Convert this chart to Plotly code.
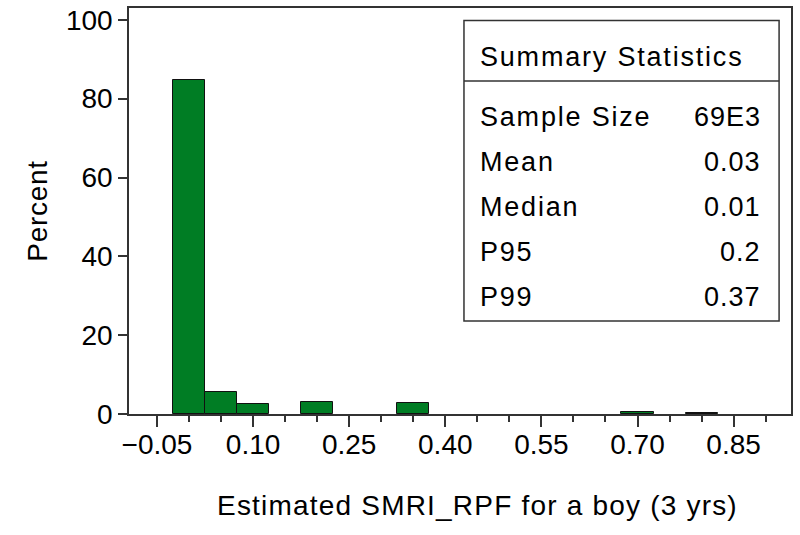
import plotly.graph_objects as go

# histogram bins (midpoints, width 0.05) and percent per bin
bin_mid = [0.00, 0.05, 0.10, 0.20, 0.35, 0.70, 0.80]
percent = [84.7, 5.6, 2.45, 3.05, 2.7, 0.5, 0.3]
bin_width = 0.05

x_tickvals = [-0.05, 0.10, 0.25, 0.40, 0.55, 0.70, 0.85]
x_ticktext = ["\u22120.05", "0.10", "0.25", "0.40", "0.55", "0.70", "0.85"]
y_tickvals = [0, 20, 40, 60, 80, 100]

stat_names = ["Sample Size", "Mean", "Median", "P95", "P99"]
stat_values = ["69E3", "0.03", "0.01", "0.2", "0.37"]

font_name = "Liberation Sans, Arial, sans-serif"
line_col = "#333333"


def spaced(txt, px):
    return f'<span style="letter-spacing:{px}px">{txt}</span>'


fig = go.Figure()
fig.add_trace(go.Bar(
    x=bin_mid, y=percent, width=[bin_width] * len(bin_mid),
    marker=dict(color="#007d24", line=dict(color="#111111", width=1)),
    showlegend=False,
))

fig.update_layout(
    width=800, height=535,
    margin=dict(l=129, r=9, t=8, b=121),
    plot_bgcolor="white", paper_bgcolor="white",
    font=dict(family=font_name, size=28, color="black"),
    bargap=0,
)

fig.update_xaxes(
    range=[-0.0937, 0.9396], automargin=False,
    tickvals=x_tickvals, ticktext=x_ticktext,
    ticks="outside", ticklen=11, tickwidth=1.5, tickcolor=line_col,
    ticklabelstandoff=-6,
    minor=dict(dtick=0.05, tick0=-0.05, ticks="outside", ticklen=6,
               tickwidth=1.5, tickcolor=line_col, showgrid=False),
    showline=True, linecolor=line_col, linewidth=1.5, mirror=True,
    showgrid=False, zeroline=False,
)
fig.update_yaxes(
    range=[0, 103], automargin=False,
    tickvals=y_tickvals,
    ticks="outside", ticklen=9, tickwidth=1.5, tickcolor=line_col,
    showline=True, linecolor=line_col, linewidth=1.5, mirror=True,
    showgrid=False, zeroline=False,
    title=dict(text=spaced("Percent", 0.7), font=dict(size=28), standoff=10),
)

# x axis title (sits a little right of the plot centre in the original)
fig.add_annotation(xref="paper", yref="paper", x=0.527, y=-0.2266,
                   text=spaced("Estimated SMRI_RPF for a boy (3 yrs)", 1.2),
                   showarrow=False, xanchor="center", yanchor="middle",
                   font=dict(size=28))

# summary statistics inset box
box_l, box_r, box_t, box_b, box_div = 0.506, 0.982, 0.969, 0.229, 0.820
fig.add_shape(type="rect", xref="paper", yref="paper",
              x0=box_l, x1=box_r, y0=box_b, y1=box_t,
              line=dict(color=line_col, width=1.5), fillcolor="white", layer="above")
fig.add_shape(type="line", xref="paper", yref="paper",
              x0=box_l, x1=box_r, y0=box_div, y1=box_div,
              line=dict(color=line_col, width=1.5))

fig.add_annotation(xref="paper", yref="paper", x=0.527, y=0.879,
                   text=spaced("Summary Statistics", 1.8), showarrow=False,
                   xanchor="left", yanchor="middle", font=dict(size=27))
row_y = [0.7315, 0.6207, 0.5099, 0.399, 0.288]
for name, val, yy in zip(stat_names, stat_values, row_y):
    fig.add_annotation(xref="paper", yref="paper", x=0.527, y=yy,
                       text=spaced(name, 1.8),
                       showarrow=False, xanchor="left", yanchor="middle",
                       font=dict(size=27))
    fig.add_annotation(xref="paper", yref="paper", x=0.9577, y=yy,
                       text=spaced(val, 1.0),
                       showarrow=False, xanchor="right", yanchor="middle",
                       font=dict(size=27))

fig.write_html("out.html", config={"displayModeBar": False},
               post_script="document.body.style.margin='0';")
